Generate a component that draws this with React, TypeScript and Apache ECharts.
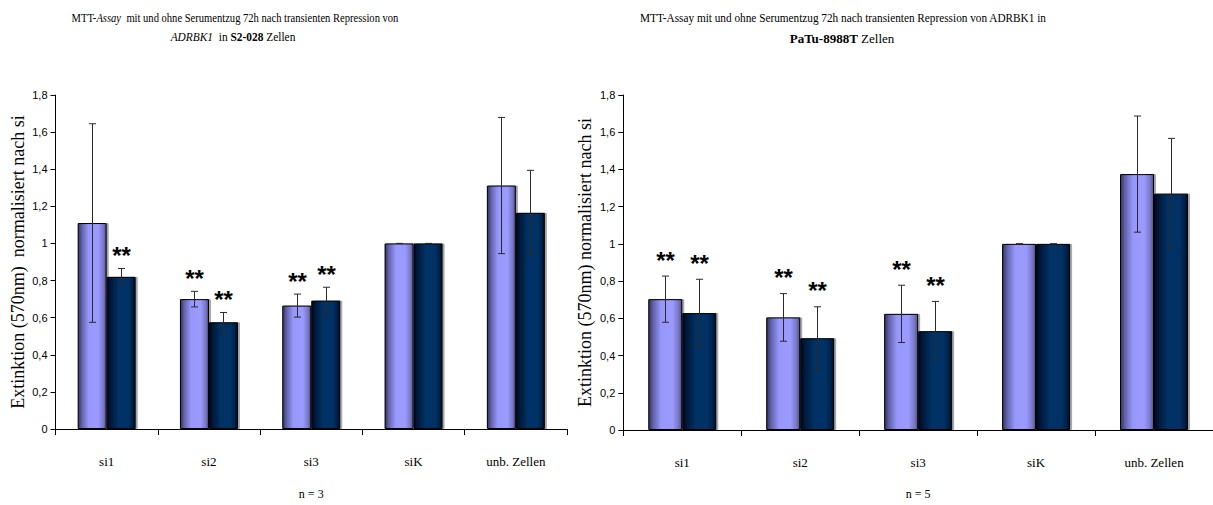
import React, { useEffect, useRef } from "react";
import * as echarts from "echarts";

// Categories shared by both panels
const categories = ["si1", "si2", "si3", "siK", "unb. Zellen"];

// Y-axis range / tick step (Extinktion, normalised)
const yMin = 0;
const yMax = 1.8;
const yStep = 0.2;

// Panel 1: S2-028, n = 3
const s2SeriesA = [1.11, 0.7, 0.665, 1.0, 1.312];
const s2ErrorA = [0.535, 0.042, 0.062, 0, 0.367];
const s2StarA = [false, true, true, false, false];
const s2SeriesB = [0.82, 0.575, 0.692, 1.0, 1.165];
const s2ErrorB = [0.045, 0.053, 0.072, 0, 0.229];
const s2StarB = [true, true, true, false, false];

// Panel 2: PaTu-8988T, n = 5
const paSeriesA = [0.703, 0.605, 0.624, 1.0, 1.375];
const paErrorA = [0.124, 0.128, 0.154, 0, 0.312];
const paStarA = [true, true, true, false, false];
const paSeriesB = [0.628, 0.493, 0.531, 1.0, 1.27];
const paErrorB = [0.182, 0.169, 0.16, 0, 0.297];
const paStarB = [true, true, true, false, false];

const SERIF = "Liberation Serif";
const SANS = "Liberation Sans";

const lightFill = new echarts.graphic.LinearGradient(0, 0, 1, 0, [
  { offset: 0, color: "#34345e" },
  { offset: 0.14, color: "#6363ad" },
  { offset: 0.38, color: "#9898fc" },
  { offset: 0.72, color: "#9a9aff" },
  { offset: 0.9, color: "#7878c6" },
  { offset: 1, color: "#50508a" },
]);

const darkFill = new echarts.graphic.LinearGradient(0, 0, 1, 0, [
  { offset: 0, color: "#00081a" },
  { offset: 0.14, color: "#001a3e" },
  { offset: 0.42, color: "#003366" },
  { offset: 0.74, color: "#003366" },
  { offset: 0.9, color: "#00224c" },
  { offset: 1, color: "#000c22" },
]);

const fmtY = (v: number) => String(Math.round(v * 10) / 10).replace(".", ",");

function barSeries(data: number[], fill: any, gridIdx: number, width: number) {
  return {
    type: "bar",
    xAxisIndex: gridIdx,
    yAxisIndex: gridIdx,
    data,
    barWidth: width,
    barGap: "0%",
    itemStyle: {
      color: fill,
      borderColor: "#000",
      borderWidth: 1,
      shadowColor: "rgba(0,0,0,0.35)",
      shadowOffsetX: 2,
      shadowOffsetY: 0,
      shadowBlur: 0,
    },
    z: 2,
  };
}

// Error whiskers plus significance asterisks for one bar series
function errorSeries(
  values: number[],
  errors: number[],
  stars: boolean[],
  gridIdx: number,
  offset: number,
  starGap: number
) {
  const data = values.map((v, i) => [i, v, errors[i], stars[i] ? 1 : 0]);
  return {
    type: "custom",
    xAxisIndex: gridIdx,
    yAxisIndex: gridIdx,
    data,
    z: 5,
    clip: false,
    renderItem: (_params: any, api: any) => {
      const i = api.value(0);
      const v = api.value(1);
      const e = api.value(2);
      const star = api.value(3);
      const c = api.coord([i, v]);
      const hi = api.coord([i, v + e]);
      const lo = api.coord([i, v - e]);
      const x = Math.round(c[0] + offset) + 0.5;
      const cap = 3.5;
      const ls = { stroke: "#2a2a2a", lineWidth: 1 };
      const children: any[] = [
        { type: "line", shape: { x1: x, y1: hi[1], x2: x, y2: lo[1] }, style: ls },
        { type: "line", shape: { x1: x - cap, y1: hi[1], x2: x + cap, y2: hi[1] }, style: ls },
        { type: "line", shape: { x1: x - cap, y1: lo[1], x2: x + cap, y2: lo[1] }, style: ls },
      ];
      if (star) {
        children.push({
          type: "text",
          x,
          y: hi[1] - starGap,
          style: {
            text: "**",
            fontFamily: SANS,
            fontWeight: "bold",
            fontSize: 24,
            fill: "#000",
            align: "center",
            verticalAlign: "bottom",
          },
        });
      }
      return { type: "group", children };
    },
  };
}

function xAxisFor(gridIdx: number, name: string, margin: number, nameGap: number) {
  return {
    type: "category",
    gridIndex: gridIdx,
    data: categories,
    axisLine: { show: true, lineStyle: { color: "#000", width: 1 } },
    axisTick: { show: true, length: 6, lineStyle: { color: "#000" } },
    axisLabel: { margin, fontFamily: SERIF, fontSize: 13, color: "#000" },
    name,
    nameLocation: "middle",
    nameGap,
    nameTextStyle: { fontFamily: SERIF, fontSize: 12, color: "#000" },
  };
}

function yAxisFor(gridIdx: number, name: string) {
  return {
    type: "value",
    gridIndex: gridIdx,
    min: yMin,
    max: yMax,
    interval: yStep,
    axisLine: { show: true, lineStyle: { color: "#000", width: 1 } },
    axisTick: { show: true, length: 5, lineStyle: { color: "#000" } },
    axisLabel: { margin: 8, fontFamily: SANS, fontSize: 11, color: "#000", formatter: fmtY },
    splitLine: { show: false },
    name,
    nameLocation: "middle",
    nameGap: 29,
    nameTextStyle: { fontFamily: SERIF, fontSize: 18, color: "#000" },
  };
}

function titleLine(x: number, y: number, text: string, scaleX: number, size: number, rich?: any) {
  return {
    type: "text",
    x,
    y,
    scaleX,
    style: {
      text,
      fontFamily: SERIF,
      fontSize: size,
      fill: "#000",
      align: "center",
      rich,
    },
  };
}

export default function App() {
  const ref = useRef<HTMLDivElement>(null);

  useEffect(() => {
    if (!ref.current) return;
    const chart = echarts.init(ref.current, null, { renderer: "svg" });
    const italic = { fontFamily: SERIF, fontSize: 12, fontStyle: "italic" };
    chart.setOption({
      animation: false,
      backgroundColor: "#fff",
      textStyle: { fontFamily: SERIF, color: "#000" },
      grid: [
        { left: 55.5, top: 95, width: 511.5, height: 336 },
        { left: 623.3, top: 95, width: 596, height: 339.3 },
      ],
      xAxis: [xAxisFor(0, "n = 3", 26, 59), xAxisFor(1, "n = 5", 26, 58)],
      yAxis: [
        yAxisFor(0, "Extinktion (570nm)  normalisiert nach si"),
        yAxisFor(1, "Extinktion (570nm) normalisiert nach si"),
      ],
      series: [
        barSeries(s2SeriesA, lightFill, 0, 29),
        barSeries(s2SeriesB, darkFill, 0, 29),
        barSeries(paSeriesA, lightFill, 1, 34),
        barSeries(paSeriesB, darkFill, 1, 34),
        errorSeries(s2SeriesA, s2ErrorA, s2StarA, 0, -14.5, 1),
        errorSeries(s2SeriesB, s2ErrorB, s2StarB, 0, 14.5, 1),
        errorSeries(paSeriesA, paErrorA, paStarA, 1, -17, 4),
        errorSeries(paSeriesB, paErrorB, paStarB, 1, 17, 4),
      ],
      graphic: [
        titleLine(
          235,
          12,
          "MTT-{i|Assay}  mit und ohne Serumentzug 72h nach transienten Repression von",
          0.88,
          12,
          { i: italic }
        ),
        titleLine(233, 31, "{i|ADRBK1}  in {b|S2-028} Zellen", 0.95, 12, {
          i: italic,
          b: { fontFamily: SERIF, fontSize: 12, fontWeight: "bold" },
        }),
        titleLine(
          843,
          12,
          "MTT-Assay mit und ohne Serumentzug 72h nach transienten Repression von ADRBK1 in",
          0.94,
          12
        ),
        titleLine(842, 32, "{b|PaTu-8988T} Zellen", 1, 13, {
          b: { fontFamily: SERIF, fontSize: 13, fontWeight: "bold" },
        }),
      ],
    });
    return () => chart.dispose();
  }, []);

  return (
    <div
      ref={ref}
      style={{ position: "absolute", left: 0, top: 0, width: 1213, height: 505 }}
    />
  );
}
